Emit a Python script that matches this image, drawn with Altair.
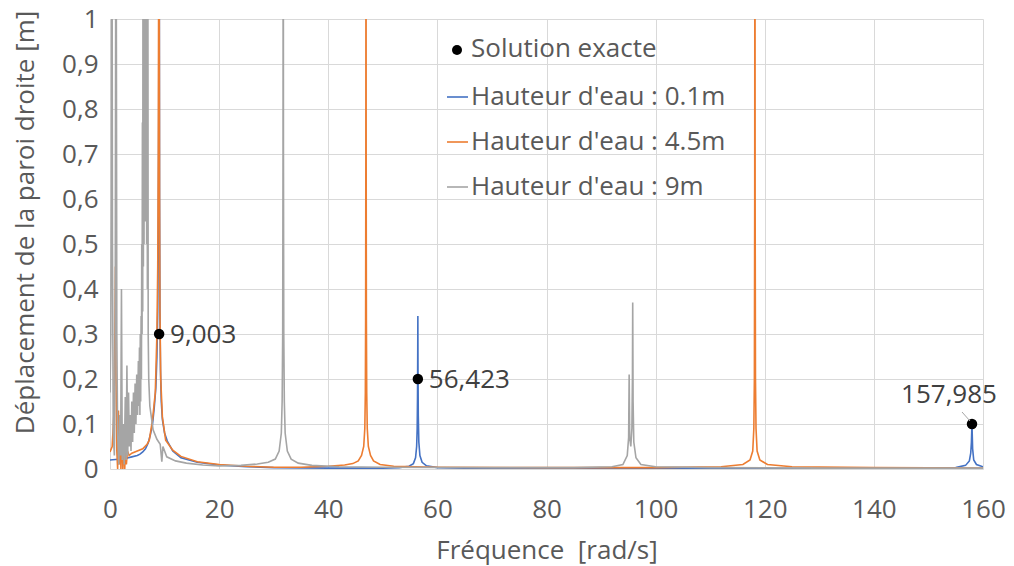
import altair as alt
import pandas as pd

# Frequency response of the right wall displacement for three water heights.
# Values above 1 m run past the top of the plot and are clipped there.

freq_01 = [0.0, 1.0, 2.0, 3.0, 4.0, 5.0, 5.5, 6.0, 6.5, 7.0, 7.4, 7.8, 8.1, 8.4,
           8.6, 8.75, 8.85, 8.93, 8.98, 9.003, 9.03, 9.08, 9.15, 9.25, 9.4, 9.6,
           10.0, 10.5, 11.5, 13.0, 16.0, 20.0, 25.0, 30.0, 40.0, 50.0, 53.0, 54.8,
           55.6, 56.0, 56.2, 56.3, 56.36, 56.4, 56.423, 56.45, 56.5, 56.6, 56.8,
           57.2, 58.0, 60.0, 65.0, 80.0, 100.0, 120.0, 140.0, 150.0, 155.0, 156.8,
           157.5, 157.75, 157.88, 157.95, 157.985, 158.02, 158.1, 158.3, 158.8, 160.0]
amp_01 = [0.02, 0.021, 0.022, 0.024, 0.027, 0.03, 0.033, 0.038, 0.045, 0.058, 0.076, 0.1,
          0.135, 0.18, 0.25, 0.35, 0.5, 0.8, 1.2, 1.6, 1.2, 0.6, 0.35, 0.22, 0.15, 0.11,
          0.08, 0.062, 0.04, 0.025, 0.015, 0.009, 0.005, 0.003, 0.002, 0.002, 0.003, 0.006,
          0.012, 0.025, 0.05, 0.09, 0.16, 0.26, 0.34, 0.22, 0.12, 0.06, 0.03,
          0.015, 0.007, 0.003, 0.002, 0.001, 0.001, 0.001, 0.001, 0.002, 0.003, 0.008,
          0.018, 0.035, 0.06, 0.09, 0.1, 0.08, 0.045, 0.02, 0.01, 0.005]

freq_45 = [0.0, 0.4, 0.7, 0.9, 1.0, 1.1, 1.25, 1.4, 1.55, 1.7, 1.85, 2.0, 2.2, 2.35,
           2.5, 2.7, 2.85, 3.0, 3.2, 3.5, 4.0, 5.0, 6.0, 6.8, 7.2, 7.8, 8.3, 8.6, 8.75,
           8.85, 8.92, 8.97, 9.02, 9.08, 9.15, 9.3, 9.6, 10.2, 11.5, 13.0, 16.0, 20.0,
           25.0, 30.0, 35.0, 40.0, 43.0, 44.5, 45.5, 46.1, 46.5, 46.7, 46.8, 46.85,
           46.89, 46.92, 46.95, 46.99, 47.05, 47.15, 47.35, 47.75, 48.3, 49.5, 52.0,
           60.0, 80.0, 100.0, 112.0, 116.0, 117.3, 117.8, 118.0, 118.1, 118.16, 118.2,
           118.24, 118.3, 118.4, 118.6, 119.1, 120.5, 125.0, 140.0, 160.0]
amp_45 = [0.038, 0.05, 0.12, 0.3, 0.45, 0.2, 0.04, 0.0, 0.13, 0.01, 0.09, 0.0, 0.1, 0.0,
          0.07, 0.0, 0.05, 0.01, 0.04, 0.03, 0.035, 0.04, 0.045, 0.055, 0.064, 0.11, 0.17,
          0.3, 0.45, 0.7, 1.1, 1.6, 1.1, 0.6, 0.35, 0.2, 0.116, 0.064, 0.042, 0.028,
          0.016, 0.01, 0.006, 0.004, 0.004, 0.006, 0.009, 0.012, 0.018, 0.03, 0.05, 0.09,
          0.17, 0.33, 0.7, 1.6, 0.7, 0.33, 0.17, 0.09, 0.05, 0.03, 0.018, 0.01, 0.006,
          0.004, 0.003, 0.003, 0.005, 0.01, 0.02, 0.04, 0.09, 0.2, 0.6, 1.6,
          0.6, 0.2, 0.09, 0.04, 0.02, 0.01, 0.005, 0.003, 0.002]

freq_9 = [0.0, 0.15, 0.25, 0.35, 0.45, 0.6, 0.8, 0.95, 1.1, 1.25, 1.4, 1.6, 1.8, 1.95,
          2.1, 2.25, 2.45, 2.6, 2.8, 2.95, 3.1, 3.25, 3.4, 3.55, 3.7, 3.85, 4.0, 4.15,
          4.3, 4.45, 4.6, 4.75, 4.9, 5.05, 5.2, 5.3, 5.4, 5.48, 5.55, 5.62, 5.7, 5.76,
          5.82, 5.88, 5.94, 6.0, 6.06, 6.12, 6.18, 6.24, 6.3, 6.36, 6.42, 6.48, 6.54,
          6.6, 6.66, 6.72, 6.78, 6.85, 6.92, 7.0, 7.1, 7.3, 7.9, 8.6, 9.2, 9.5, 9.7,
          10.4, 12.0, 14.0, 17.0, 20.0, 24.0, 27.0, 29.0, 30.3, 31.0, 31.4, 31.55,
          31.65, 31.71, 31.75, 31.79, 31.85, 31.95, 32.1, 32.5, 33.2, 34.5, 37.0,
          42.0, 50.0, 70.0, 85.0, 92.0, 94.0, 94.8, 95.05, 95.15, 95.25, 95.45,
          95.65, 95.75, 95.8, 95.87, 96.0, 96.4, 97.3, 100.0, 110.0, 130.0, 160.0]
amp_9 = [0.17, 0.3, 0.6, 1.5, 0.5, 0.08, 0.03, 0.3, 1.5, 0.3, 0.08, 0.01, 0.12, 0.03,
         0.4, 0.02, 0.1, 0.01, 0.16, 0.02, 0.23, 0.03, 0.17, 0.05, 0.12, 0.04, 0.15, 0.06,
         0.17, 0.08, 0.19, 0.1, 0.21, 0.12, 0.24, 0.14, 0.27, 0.12, 0.3, 0.15, 0.34, 0.2,
         0.5, 0.3, 0.77, 0.35, 1.5, 0.45, 1.5, 0.5, 1.5, 0.55, 1.5, 0.6, 1.5,
         0.55, 1.5, 0.5, 1.5, 0.4, 1.5, 0.3, 0.2, 0.14, 0.087, 0.066, 0.055, 0.016, 0.05,
         0.027, 0.018, 0.013, 0.009, 0.007, 0.008, 0.011, 0.015, 0.022, 0.04, 0.08, 0.15,
         0.3, 0.7, 1.6, 0.7, 0.3, 0.15, 0.08, 0.04, 0.022, 0.013, 0.008,
         0.005, 0.004, 0.003, 0.003, 0.005, 0.01, 0.03, 0.07, 0.21, 0.07, 0.05,
         0.09, 0.2, 0.37, 0.15, 0.06, 0.025, 0.01, 0.005, 0.003, 0.002, 0.002]

series_names = ["Hauteur d'eau : 0.1m", "Hauteur d'eau : 4.5m", "Hauteur d'eau : 9m"]
series_colors = ["#4472C4", "#ED7D31", "#A5A5A5"]

# Exact natural frequencies, shown as black markers with their labels
exact_freq = [9.003, 56.423, 157.985]
exact_amp = [0.3, 0.2, 0.1]
exact_text = ["9,003", "56,423", "157,985"]

x_ticks = [0, 20, 40, 60, 80, 100, 120, 140, 160]
y_ticks = [0.0, 0.1, 0.2, 0.3, 0.4, 0.5, 0.6, 0.7, 0.8, 0.9, 1.0]

FONT = "Open Sans"
FS = 26
TEXT = "#595959"

rows = []
for name, fs, vs in zip(series_names, [freq_01, freq_45, freq_9], [amp_01, amp_45, amp_9]):
    for f, v in zip(fs, vs):
        rows.append({"serie": name, "freq": f, "amp": v})
lines_df = pd.DataFrame(rows)
exact_df = pd.DataFrame({"freq": exact_freq, "amp": exact_amp, "label": exact_text})

x_scale = alt.Scale(domain=[0, 160], nice=False)
y_scale = alt.Scale(domain=[0, 1], nice=False)

x_enc = alt.X(
    "freq:Q", scale=x_scale,
    axis=alt.Axis(
        values=x_ticks, title="Fréquence\u00a0 [rad/s]", grid=True, gridColor="#D9D9D9",
        domain=False, ticks=False, tickSize=0, labelFlush=False, labelFontSize=FS,
        labelFont=FONT, labelColor=TEXT, labelPadding=27, titleFont=FONT,
        titleFontSize=FS, titleFontWeight="normal", titleColor=TEXT,
        titleBaseline="alphabetic", titleY=89,
    ),
)
y_enc = alt.Y(
    "amp:Q", scale=y_scale,
    axis=alt.Axis(
        values=y_ticks, title="Déplacement de la paroi droite [m]", grid=True,
        gridColor="#D9D9D9", domain=False, ticks=False, tickSize=0, labelFlush=False,
        labelFontSize=FS, labelFont=FONT, labelColor=TEXT, labelPadding=12,
        labelExpr="datum.value == 0 ? '0' : datum.value == 1 ? '1' : replace(format(datum.value, '.1f'), '.', ',')",
        titleFont=FONT, titleFontSize=FS, titleFontWeight="normal", titleColor=TEXT,
        titleAngle=270, titleBaseline="alphabetic", titleX=-77, titleY=203,
    ),
)

lines = alt.Chart(lines_df).mark_line(clip=True, strokeWidth=1.6).encode(
    x=x_enc,
    y=y_enc,
    color=alt.Color("serie:N", scale=alt.Scale(domain=series_names, range=series_colors), legend=None),
    detail="serie:N",
)

exact_pts = alt.Chart(exact_df).mark_point(filled=True, color="black", size=110, opacity=1).encode(
    x=alt.X("freq:Q", scale=x_scale), y=alt.Y("amp:Q", scale=y_scale)
)

label_style = dict(font=FONT, fontSize=FS, color="#404040", baseline="middle")
side_labels = alt.Chart(exact_df).transform_filter("datum.freq < 100").mark_text(
    align="left", dx=11, dy=1, **label_style
).encode(x=alt.X("freq:Q", scale=x_scale), y=alt.Y("amp:Q", scale=y_scale), text="label:N")

top_label = alt.Chart(exact_df).transform_filter("datum.freq > 100").mark_text(
    align="center", dx=-23, dy=-29, **label_style
).encode(x=alt.X("freq:Q", scale=x_scale), y=alt.Y("amp:Q", scale=y_scale), text="label:N")

leader = alt.Chart(exact_df).transform_filter("datum.freq > 100").mark_rule(
    color="#A6A6A6", strokeWidth=1, xOffset=-10, yOffset=-12, x2Offset=-2, y2Offset=-3
).encode(
    x=alt.X("freq:Q", scale=x_scale), x2="freq:Q",
    y=alt.Y("amp:Q", scale=y_scale), y2="amp:Q",
)

# Legend drawn in pixel space over the plot area
one = pd.DataFrame({"k": [0]})
legend_layers = [
    alt.Chart(one).mark_point(filled=True, color="black", size=100, opacity=1).encode(
        x=alt.value(347), y=alt.value(31)
    )
]
legend_texts = ["Solution exacte"] + series_names
legend_y = [30, 78, 123, 168]
for txt, ly in zip(legend_texts, legend_y):
    legend_layers.append(
        alt.Chart(one).mark_text(font=FONT, fontSize=FS, color=TEXT, align="left", baseline="middle").encode(
            x=alt.value(361), y=alt.value(ly), text=alt.value(txt)
        )
    )
for col, ly in zip(series_colors, legend_y[1:]):
    legend_layers.append(
        alt.Chart(one).mark_rule(color=col, strokeWidth=1.6).encode(
            x=alt.value(337), x2=alt.value(358), y=alt.value(ly)
        )
    )

chart = alt.layer(lines, exact_pts, side_labels, top_label, leader, *legend_layers).properties(
    width=873,
    height=450,
    autosize=alt.AutoSizeParams(type="none"),
    padding={"left": 110, "top": 19, "right": 31, "bottom": 97},
    background="white",
).configure_view(stroke=None)

chart.save("out.html", embed_options={"renderer": "svg", "actions": False})
